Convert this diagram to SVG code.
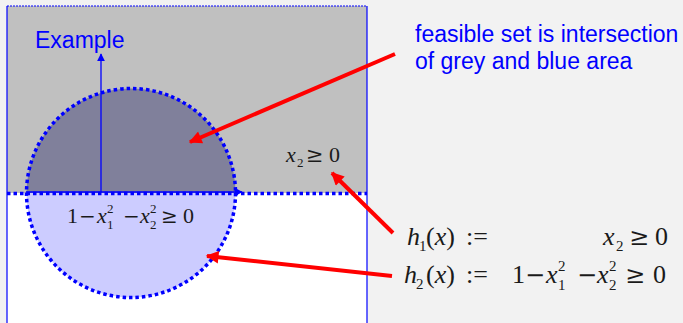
<svg xmlns="http://www.w3.org/2000/svg" width="683" height="323" viewBox="0 0 683 323">
<style>
.lbl{font-family:"Liberation Sans",Arial,sans-serif;font-size:23px;fill:#0000ff}
.m{font-family:"Liberation Serif","Times New Roman",serif;fill:#1a1a1a}
.i{font-style:italic}
.op{font-family:"DejaVu Serif",serif}
.red{stroke:#ff0000;stroke-width:4;fill:none}
.ax{stroke:#0000ff;stroke-width:1.3;fill:none}
.dot{stroke:#0000ff;stroke-width:3.5;stroke-dasharray:3.5 3;fill:none}
</style>
<defs>
<marker id="ra" viewBox="0 0 10 10" refX="9" refY="5" markerWidth="4" markerHeight="3.2" orient="auto" markerUnits="strokeWidth">
<path d="M0,0 L10,5 L0,10 Z" fill="#ff0000"/>
</marker>
<marker id="ba" viewBox="0 0 10 10" refX="9" refY="5" markerWidth="6" markerHeight="6" orient="auto" markerUnits="strokeWidth">
<path d="M0,0 L10,5 L0,10 Z" fill="#0000ff"/>
</marker>
</defs>
<rect x="0" y="0" width="683" height="323" fill="#f2f2f2"/>
<g id="plot">
<rect x="7" y="6" width="360" height="187" fill="#c0c0c0"/>
<rect x="7" y="193" width="360" height="135" fill="#ffffff"/>
<line x1="7" y1="6" x2="367" y2="6" stroke="#0000ff" stroke-width="1" stroke-dasharray="2 1"/>
<line x1="7" y1="6" x2="7" y2="323" stroke="#0000ff" stroke-width="1.2"/>
<line x1="367" y1="6" x2="367" y2="323" stroke="#0000ff" stroke-width="1.2"/>
</g>
<g id="circle">
<path d="M26.5,193 A104.5,104.5 0 0 1 235.5,193 Z" fill="#80809b"/>
<path d="M26.5,193 A104.5,104.5 0 0 0 235.5,193 Z" fill="#ccccff"/>
<circle cx="131" cy="193" r="104.5" class="dot"/>
</g>
<g id="axes">
<line x1="7" y1="193.5" x2="367" y2="193.5" class="dot"/>
<line x1="26" y1="192" x2="242" y2="192" class="ax" marker-end="url(#ba)"/>
<line x1="101" y1="192" x2="101" y2="54" class="ax" marker-end="url(#ba)"/>
</g>
<g id="labels">
<text x="35" y="48" class="lbl">Example</text>
<text x="415" y="41.5" class="lbl">feasible set is intersection</text>
<text x="415" y="69" class="lbl">of grey and blue area</text>
</g>
<g id="formula-box" class="m" font-size="22">
<text x="286" y="162" class="i">x</text>
<text x="297" y="167" font-size="13">2</text>
<text x="306" y="162" class="op" font-size="21">≥</text>
<text x="329" y="162">0</text>
</g>
<g id="formula-circle" class="m" font-size="22">
<text x="67" y="223">1</text>
<text x="79" y="223" class="op" font-size="20">−</text>
<text x="97" y="223" class="i">x</text>
<text x="107" y="229" font-size="13">1</text>
<text x="107" y="213" font-size="13">2</text>
<text x="123" y="223" class="op" font-size="20">−</text>
<text x="140" y="223" class="i">x</text>
<text x="150" y="229" font-size="13">2</text>
<text x="150" y="213" font-size="13">2</text>
<text x="161" y="223" class="op" font-size="20">≥</text>
<text x="183" y="223">0</text>
</g>
<g id="h1" class="m" font-size="26">
<text x="407" y="245" class="i">h</text>
<text x="419" y="251" font-size="15">1</text>
<text x="426" y="245">(<tspan class="i">x</tspan>)</text>
<text x="466" y="245">:=</text>
<text x="603" y="245" class="i">x</text>
<text x="616" y="251" font-size="15">2</text>
<text x="629" y="245" class="op" font-size="24">≥</text>
<text x="655" y="245">0</text>
</g>
<g id="h2" class="m" font-size="26">
<text x="404" y="283" class="i">h</text>
<text x="416" y="289" font-size="15">2</text>
<text x="426" y="283">(<tspan class="i">x</tspan>)</text>
<text x="466" y="283">:=</text>
<text x="512" y="283">1</text>
<text x="525" y="283" class="op" font-size="24">−</text>
<text x="546" y="283" class="i">x</text>
<text x="558" y="290" font-size="15">1</text>
<text x="558" y="271" font-size="15">2</text>
<text x="577" y="283" class="op" font-size="24">−</text>
<text x="597" y="283" class="i">x</text>
<text x="609" y="290" font-size="15">2</text>
<text x="609" y="271" font-size="15">2</text>
<text x="625" y="283" class="op" font-size="24">≥</text>
<text x="653" y="283">0</text>
</g>
<g id="connectors">
<line x1="395" y1="54" x2="190" y2="142" class="red" marker-end="url(#ra)"/>
<line x1="393" y1="233" x2="332" y2="173" class="red" marker-end="url(#ra)"/>
<line x1="392" y1="276" x2="207" y2="256" class="red" marker-end="url(#ra)"/>
</g>
</svg>
